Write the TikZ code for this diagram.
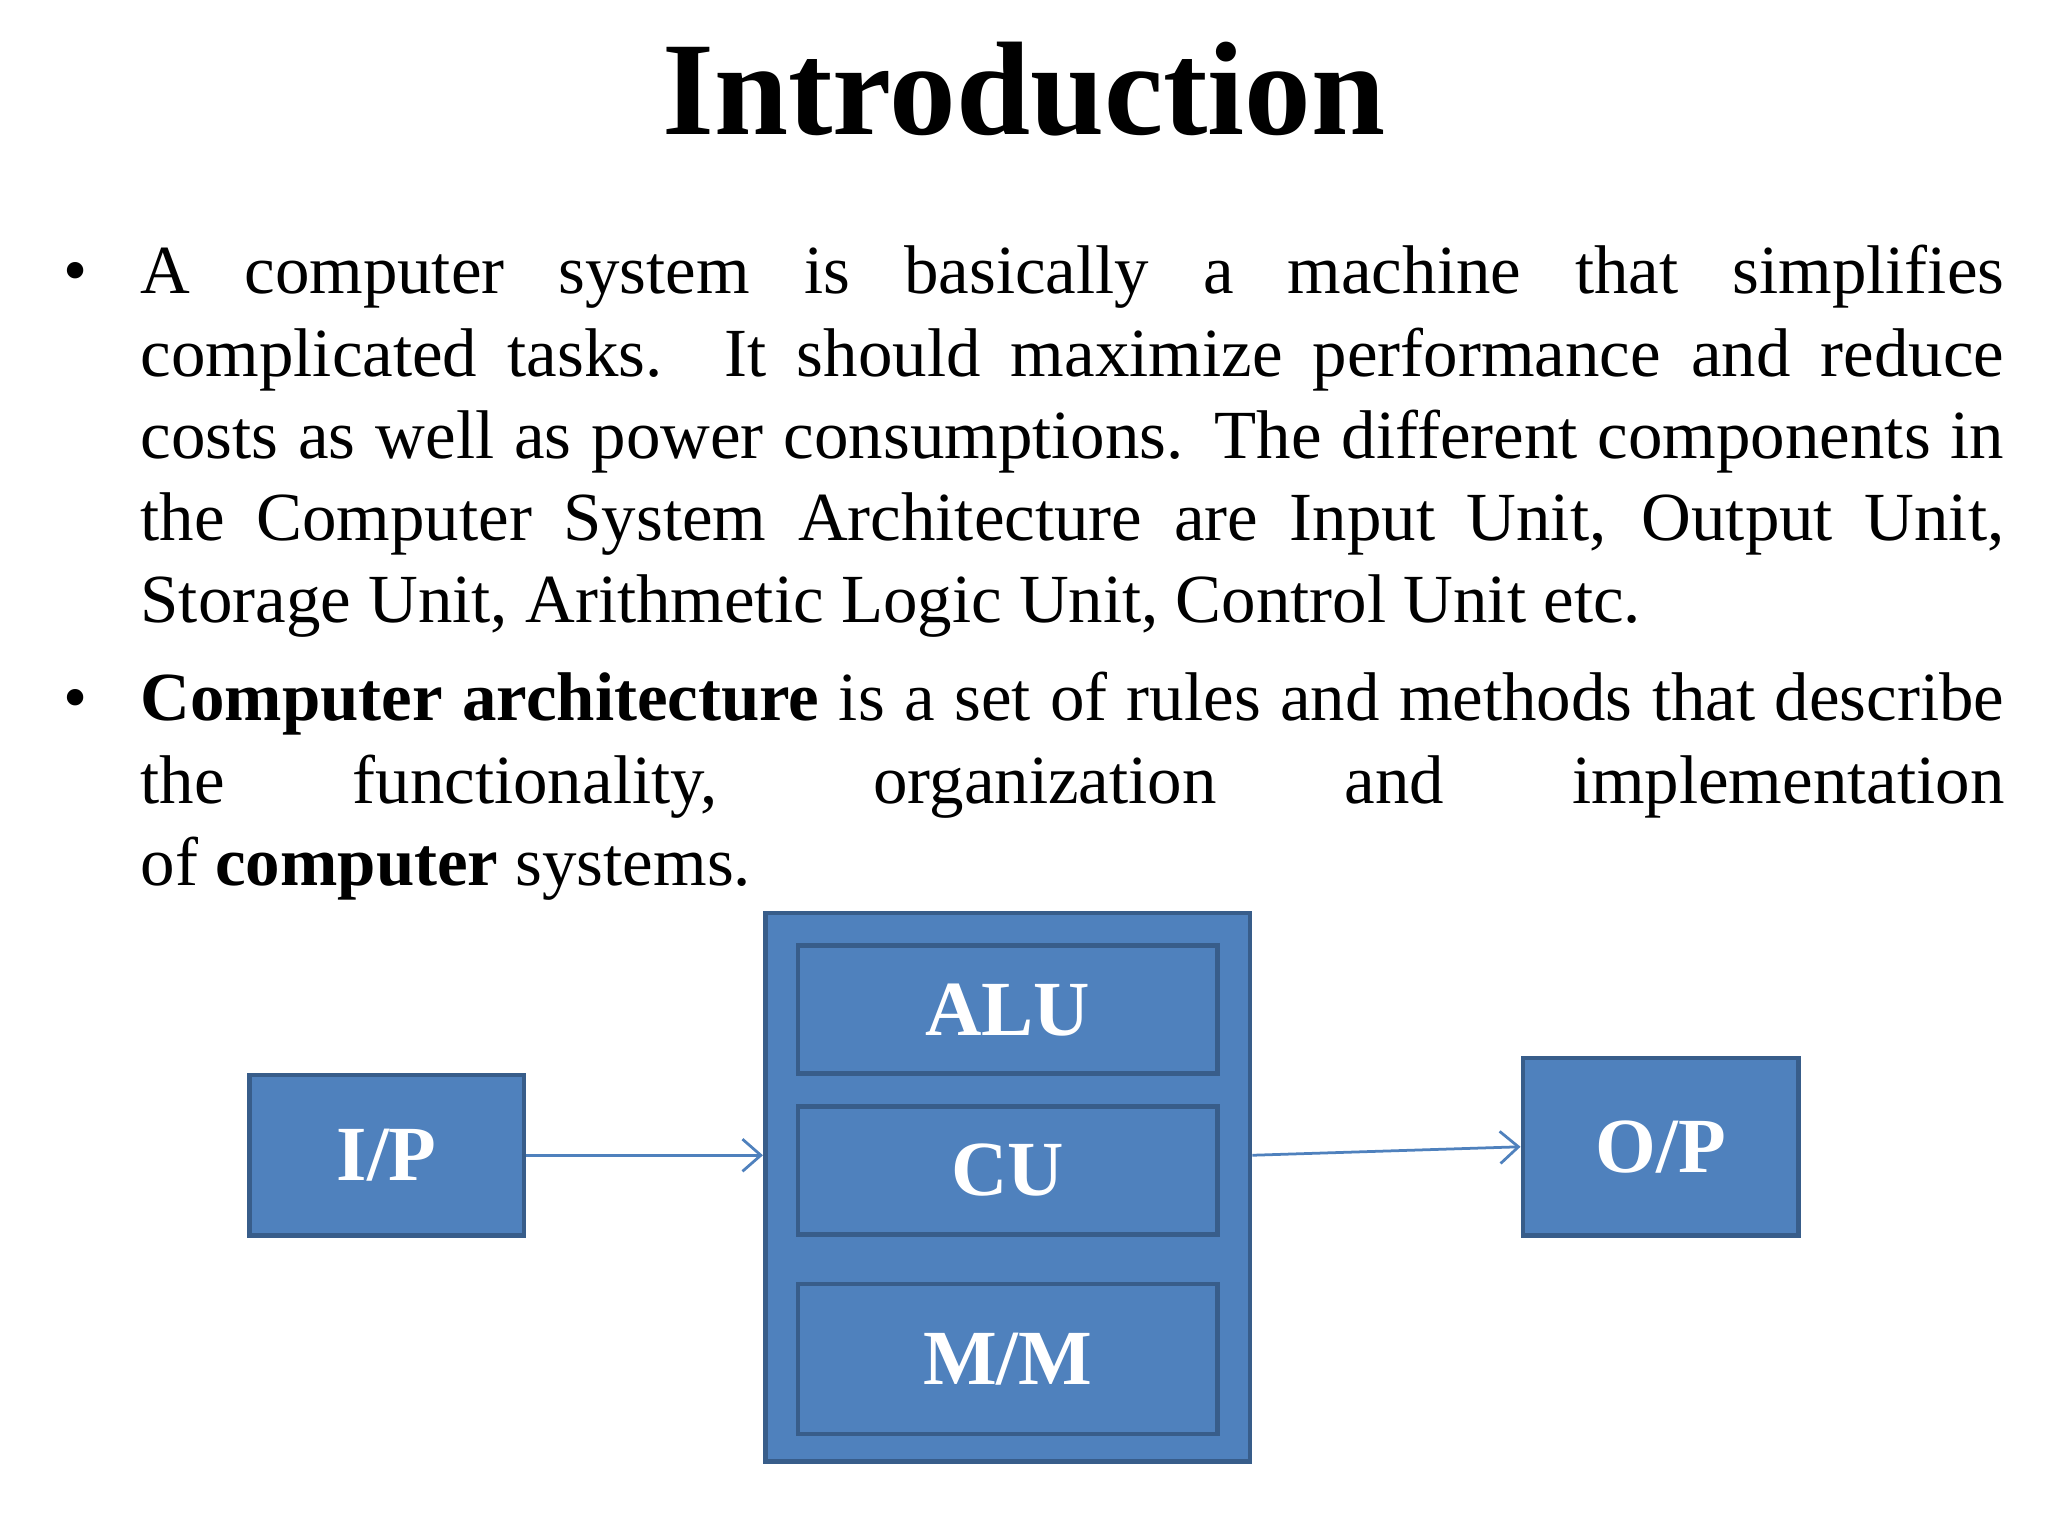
\documentclass[tikz,border=0pt]{standalone}
\usepackage{fontspec}
\setmainfont{Liberation Serif}
\usetikzlibrary{arrows.meta}
\definecolor{boxfill}{HTML}{4F81BD}
\definecolor{boxline}{HTML}{385D8A}
\begin{document}
\begin{tikzpicture}[x=0.01cm,y=-0.01cm,
  box/.style={draw=boxline,fill=boxfill,line width=1pt,inner sep=0pt,text=white,font=\fontsize{17}{20}\selectfont\bfseries},
  conn/.style={draw=boxfill,line width=0.6pt,-{Straight Barb[length=4pt,width=7pt]}}]
\useasboundingbox[fill=white] (0,0) rectangle (1568,1176);
\node[font=\fontsize{29}{34}\selectfont\bfseries,anchor=base] (title) at (784,103) {Introduction};
\node[anchor=base west,text width=14.26cm,align=justify,inner sep=0pt,font=\fontsize{15}{17.9}\selectfont] (p1) at (107,225)
{A computer system is basically a machine that simplifies\linebreak
complicated tasks. It should maximize performance and reduce\linebreak
costs as well as power consumptions. The different components in\linebreak
the Computer System Architecture are Input Unit, Output Unit,\linebreak
Storage Unit, Arithmetic Logic Unit, Control Unit etc.};
\node[anchor=base west,text width=14.26cm,align=justify,inner sep=0pt,font=\fontsize{15}{17.9}\selectfont] (p2) at (107,552)
{\textbf{Computer architecture} is a set of rules and methods that describe\linebreak
the functionality, organization and implementation\linebreak
of \textbf{computer} systems.};
\node[anchor=base,font=\fontsize{15}{17.9}\selectfont] (b1) at (58,225) {•};
\node[anchor=base,font=\fontsize{15}{17.9}\selectfont] (b2) at (58,552) {•};
\node[box,minimum width=3.71cm,minimum height=4.2cm] (outer) at (771.5,909) {};
\node[box,minimum width=3.21cm,minimum height=0.98cm] (alu) at (771.5,773) {ALU};
\node[box,minimum width=3.21cm,minimum height=0.98cm] (cu) at (771.5,896) {CU};
\node[box,minimum width=3.21cm,minimum height=1.15cm] (mm) at (771.5,1040.5) {M/M};
\node[box,minimum width=2.1cm,minimum height=1.23cm] (ip) at (296,884.5) {I/P};
\node[box,minimum width=2.11cm,minimum height=1.36cm] (op) at (1271.5,878) {O/P};
\draw[conn] (ip.east) -- (ip.east -| outer.west);
\draw[conn] (ip.east -| outer.east) -- (op.west);
\end{tikzpicture}
\end{document}
